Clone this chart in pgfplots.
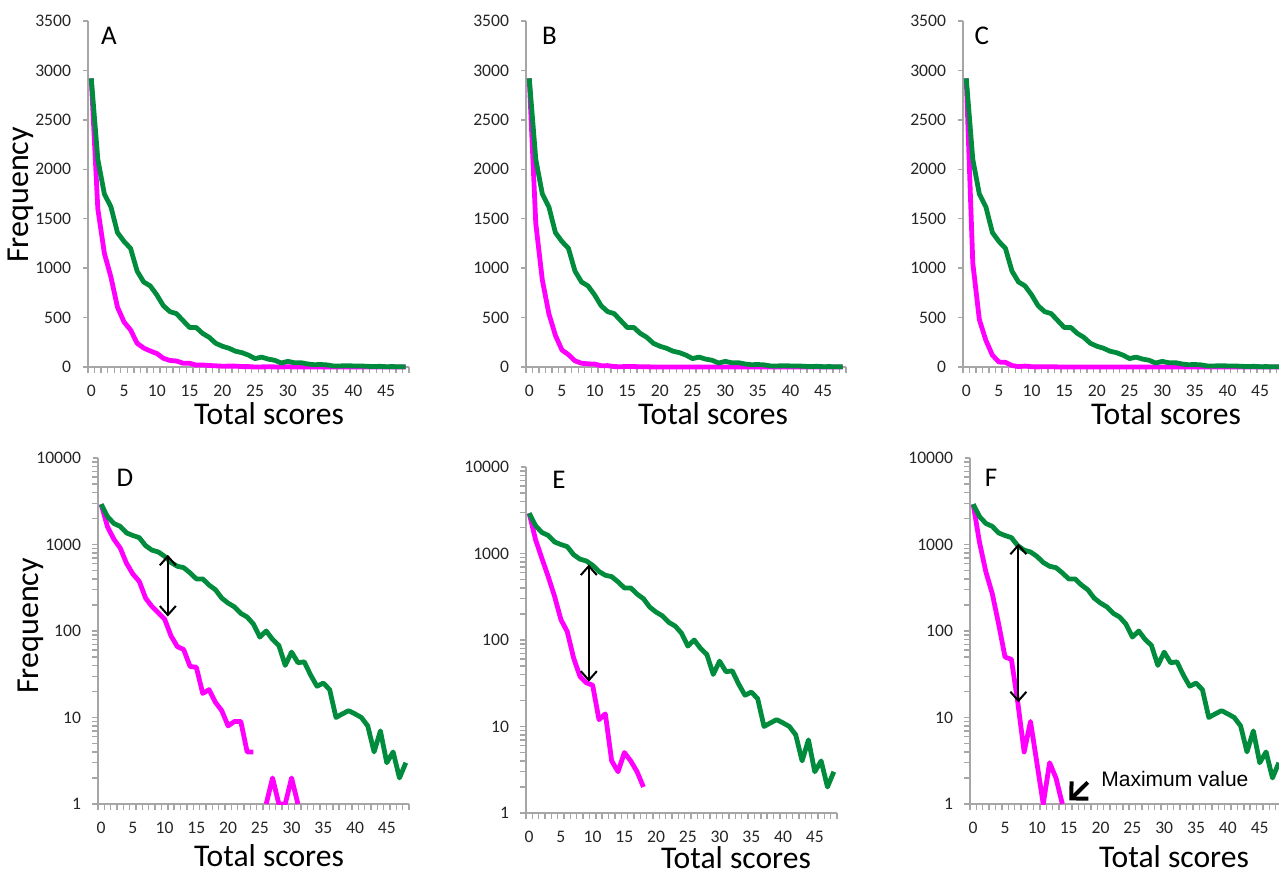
\documentclass[border=0pt]{standalone}
\usepackage{pgfplots}
\pgfplotsset{compat=1.18}
\usepackage{pgfplotstable}
\usetikzlibrary{arrows.meta}
\usepackage{fontspec}
\setmainfont{Carlito}
\newfontfamily\arial{Liberation Sans}
\definecolor{gline}{RGB}{0,140,60}
\definecolor{mline}{RGB}{255,0,255}
\definecolor{axgray}{RGB}{166,166,166}

% green series (same in all panels)
\pgfplotstableread{
x y
0 2920
1 2100
2 1750
3 1620
4 1360
5 1270
6 1200
7 970
8 860
9 820
10 730
11 620
12 560
13 540
14 470
15 400
16 400
17 340
18 300
19 240
20 210
21 190
22 160
23 145
24 120
25 85
26 100
27 80
28 68
29 40
30 57
31 43
32 44
33 31
34 23
35 25
36 21
37 10
38 11
39 12
40 11
41 10
42 8
43 4
44 7
45 3
46 4
47 2
48 3
}\greendata

% magenta, panels A/D
\pgfplotstableread{
x y
0 2920
1 1600
2 1150
3 910
4 605
5 455
6 375
7 240
8 192
9 162
10 137
11 88
12 66
13 61
14 39
15 38
16 19
17 21
18 15
19 12
20 8
21 9
22 9
23 4
24 4
25 0
26 1
27 2
28 1
29 1
30 2
31 1
32 0
33 0
34 0
35 0
36 0
37 0
38 0
39 0
40 0
41 0
42 0
43 0
44 0
45 0
46 0
47 0
48 0
}\magA
\pgfplotstableread{
x y
0 2920
1 1600
2 1150
3 910
4 605
5 455
6 375
7 240
8 192
9 162
10 137
11 88
12 66
13 61
14 39
15 38
16 19
17 21
18 15
19 12
20 8
21 9
22 9
23 4
24 4
25 nan
26 1
27 2
28 1
29 1
30 2
31 1
}\magAlog

% magenta, panels B/E
\pgfplotstableread{
x y
0 2920
1 1450
2 880
3 540
4 320
5 172
6 125
7 62
8 38
9 32
10 30
11 12
12 14
13 4
14 3
15 5
16 4
17 3
18 2
19 0
20 0
21 0
22 0
23 0
24 0
25 0
26 0
27 0
28 0
29 0
30 0
31 0
32 0
33 0
34 0
35 0
36 0
37 0
38 0
39 0
40 0
41 0
42 0
43 0
44 0
45 0
46 0
47 0
48 0
}\magB
\pgfplotstableread{
x y
0 2920
1 1450
2 880
3 540
4 320
5 172
6 125
7 62
8 38
9 32
10 30
11 12
12 14
13 4
14 3
15 5
16 4
17 3
18 2
}\magBlog

% magenta, panels C/F
\pgfplotstableread{
x y
0 2920
1 1050
2 480
3 270
4 120
5 50
6 47
7 15
8 4
9 9
10 3
11 1
12 3
13 2
14 1
15 0
16 0
17 0
18 0
19 0
20 0
21 0
22 0
23 0
24 0
25 0
26 0
27 0
28 0
29 0
30 0
31 0
32 0
33 0
34 0
35 0
36 0
37 0
38 0
39 0
40 0
41 0
42 0
43 0
44 0
45 0
46 0
47 0
48 0
}\magC
\pgfplotstableread{
x y
0 2920
1 1050
2 480
3 270
4 120
5 50
6 47
7 15
8 4
9 9
10 3
11 1
12 3
13 2
14 1
}\magClog

\pgfplotsset{
 panelbase/.style={
  scale only axis, height=173pt,
  xmin=-0.5, xmax=48.5,
  axis x line*=bottom, axis y line*=left,
  axis line style={draw=axgray, line width=0.7pt},
  every axis plot/.append style={line width=2.4pt, line join=round, mark=none},
  xtick={0,5,...,45}, xticklabels={0,5,10,15,20,25,30,35,40,45},
  minor xtick={-0.5,0.5,...,48.5},
  major x tick style={draw=none},
  minor x tick style={draw=axgray, line width=0.7pt},
  ytick style={draw=axgray, line width=0.7pt},
  tick align=outside,
  major tick length=2.5pt, minor tick length=3pt,
  tick label style={font=\fontsize{8.8}{10}\selectfont, text=black!85},
  yticklabel style={xshift=-2.5pt},
  xticklabel style={yshift=-3pt},
 },
 linpanel/.style={panelbase, ymin=0, ymax=3500, ytick={0,500,...,3500},
   yticklabels={0,500,1000,1500,2000,2500,3000,3500}, clip=false},
 logpanel/.style={panelbase, ymin=1, ymax=10000, ytick={1,10,100,1000,10000},
   yticklabels={1,10,100,1000,10000}, minor ytick={}, unbounded coords=jump},
}
\tikzset{darrow/.style={black, line width=1pt, {Straight Barb[length=4.5pt,width=8pt]}-{Straight Barb[length=4.5pt,width=8pt]}}}

\begin{document}
\begin{tikzpicture}[x=0.5pt,y=0.5pt]
\useasboundingbox (0,0) rectangle (1279,869);

% ---------- A ----------
\begin{axis}[linpanel, width=160.5pt, at={(44pt,251pt)}, anchor=south west]
\addplot[mline] table[x=x,y=y] {\magA};
\addplot[gline] table[x=x,y=y] {\greendata};
\end{axis}
% ---------- B ----------
\begin{axis}[linpanel, width=160pt, at={(263pt,251pt)}, anchor=south west]
\addplot[mline] table[x=x,y=y] {\magB};
\addplot[gline] table[x=x,y=y] {\greendata};
\end{axis}
% ---------- C ----------
\begin{axis}[linpanel, width=160pt, at={(481.5pt,251pt)}, anchor=south west]
\addplot[mline] table[x=x,y=y] {\magC};
\addplot[gline] table[x=x,y=y] {\greendata};
\end{axis}
% ---------- D ----------
\begin{axis}[ymode=log, logpanel, width=155.5pt, at={(49pt,32.5pt)}, anchor=south west]
\addplot[mline] table[x=x,y=y] {\magAlog};
\addplot[gline] table[x=x,y=y] {\greendata};
\draw[darrow] (axis cs:10.5,760) -- (axis cs:10.5,147);
\end{axis}
% ---------- E ----------
\begin{axis}[ymode=log, logpanel, width=155.5pt, at={(263pt,28pt)}, anchor=south west]
\addplot[mline] table[x=x,y=y] {\magBlog};
\addplot[gline] table[x=x,y=y] {\greendata};
\draw[darrow] (axis cs:9.4,745) -- (axis cs:9.4,33);
\end{axis}
% ---------- F ----------
\begin{axis}[ymode=log, logpanel, width=156pt, at={(485pt,32.5pt)}, anchor=south west]
\addplot[mline] table[x=x,y=y] {\magClog};
\addplot[gline] table[x=x,y=y] {\greendata};
\draw[darrow] (axis cs:7.1,1020) -- (axis cs:7.1,15);
\draw[black, line width=2pt, -{Straight Barb[length=6pt,width=12pt]}] (axis cs:18.0,1.78) -- (axis cs:15.1,1.1);
\end{axis}

% labels
\node[rotate=90, font=\fontsize{16}{18}\selectfont] at (21,674) {Frequency};
\node[rotate=90, font=\fontsize{16}{18}\selectfont] at (31,243) {Frequency};
\foreach \xx/\yy in {269/445, 713/445, 1166/445, 269/3, 736/1, 1174/2}
  \node[anchor=base, font=\fontsize{15.8}{18}\selectfont, inner sep=0pt] at (\xx,\yy) {Total scores};
\node[font=\fontsize{13.5}{15}\selectfont] at (109,833) {A};
\node[font=\fontsize{13.5}{15}\selectfont] at (549.5,833) {B};
\node[font=\fontsize{13.5}{15}\selectfont] at (981.7,833) {C};
\node[font=\fontsize{13.5}{15}\selectfont] at (125,391) {D};
\node[font=\fontsize{13.5}{15}\selectfont] at (559,389) {E};
\node[font=\fontsize{13.5}{15}\selectfont] at (991,391) {F};
\node[anchor=west, inner sep=0pt, font=\arial\fontsize{10.5}{12}\selectfont] at (1101,90) {Maximum value};
\end{tikzpicture}
\end{document}
